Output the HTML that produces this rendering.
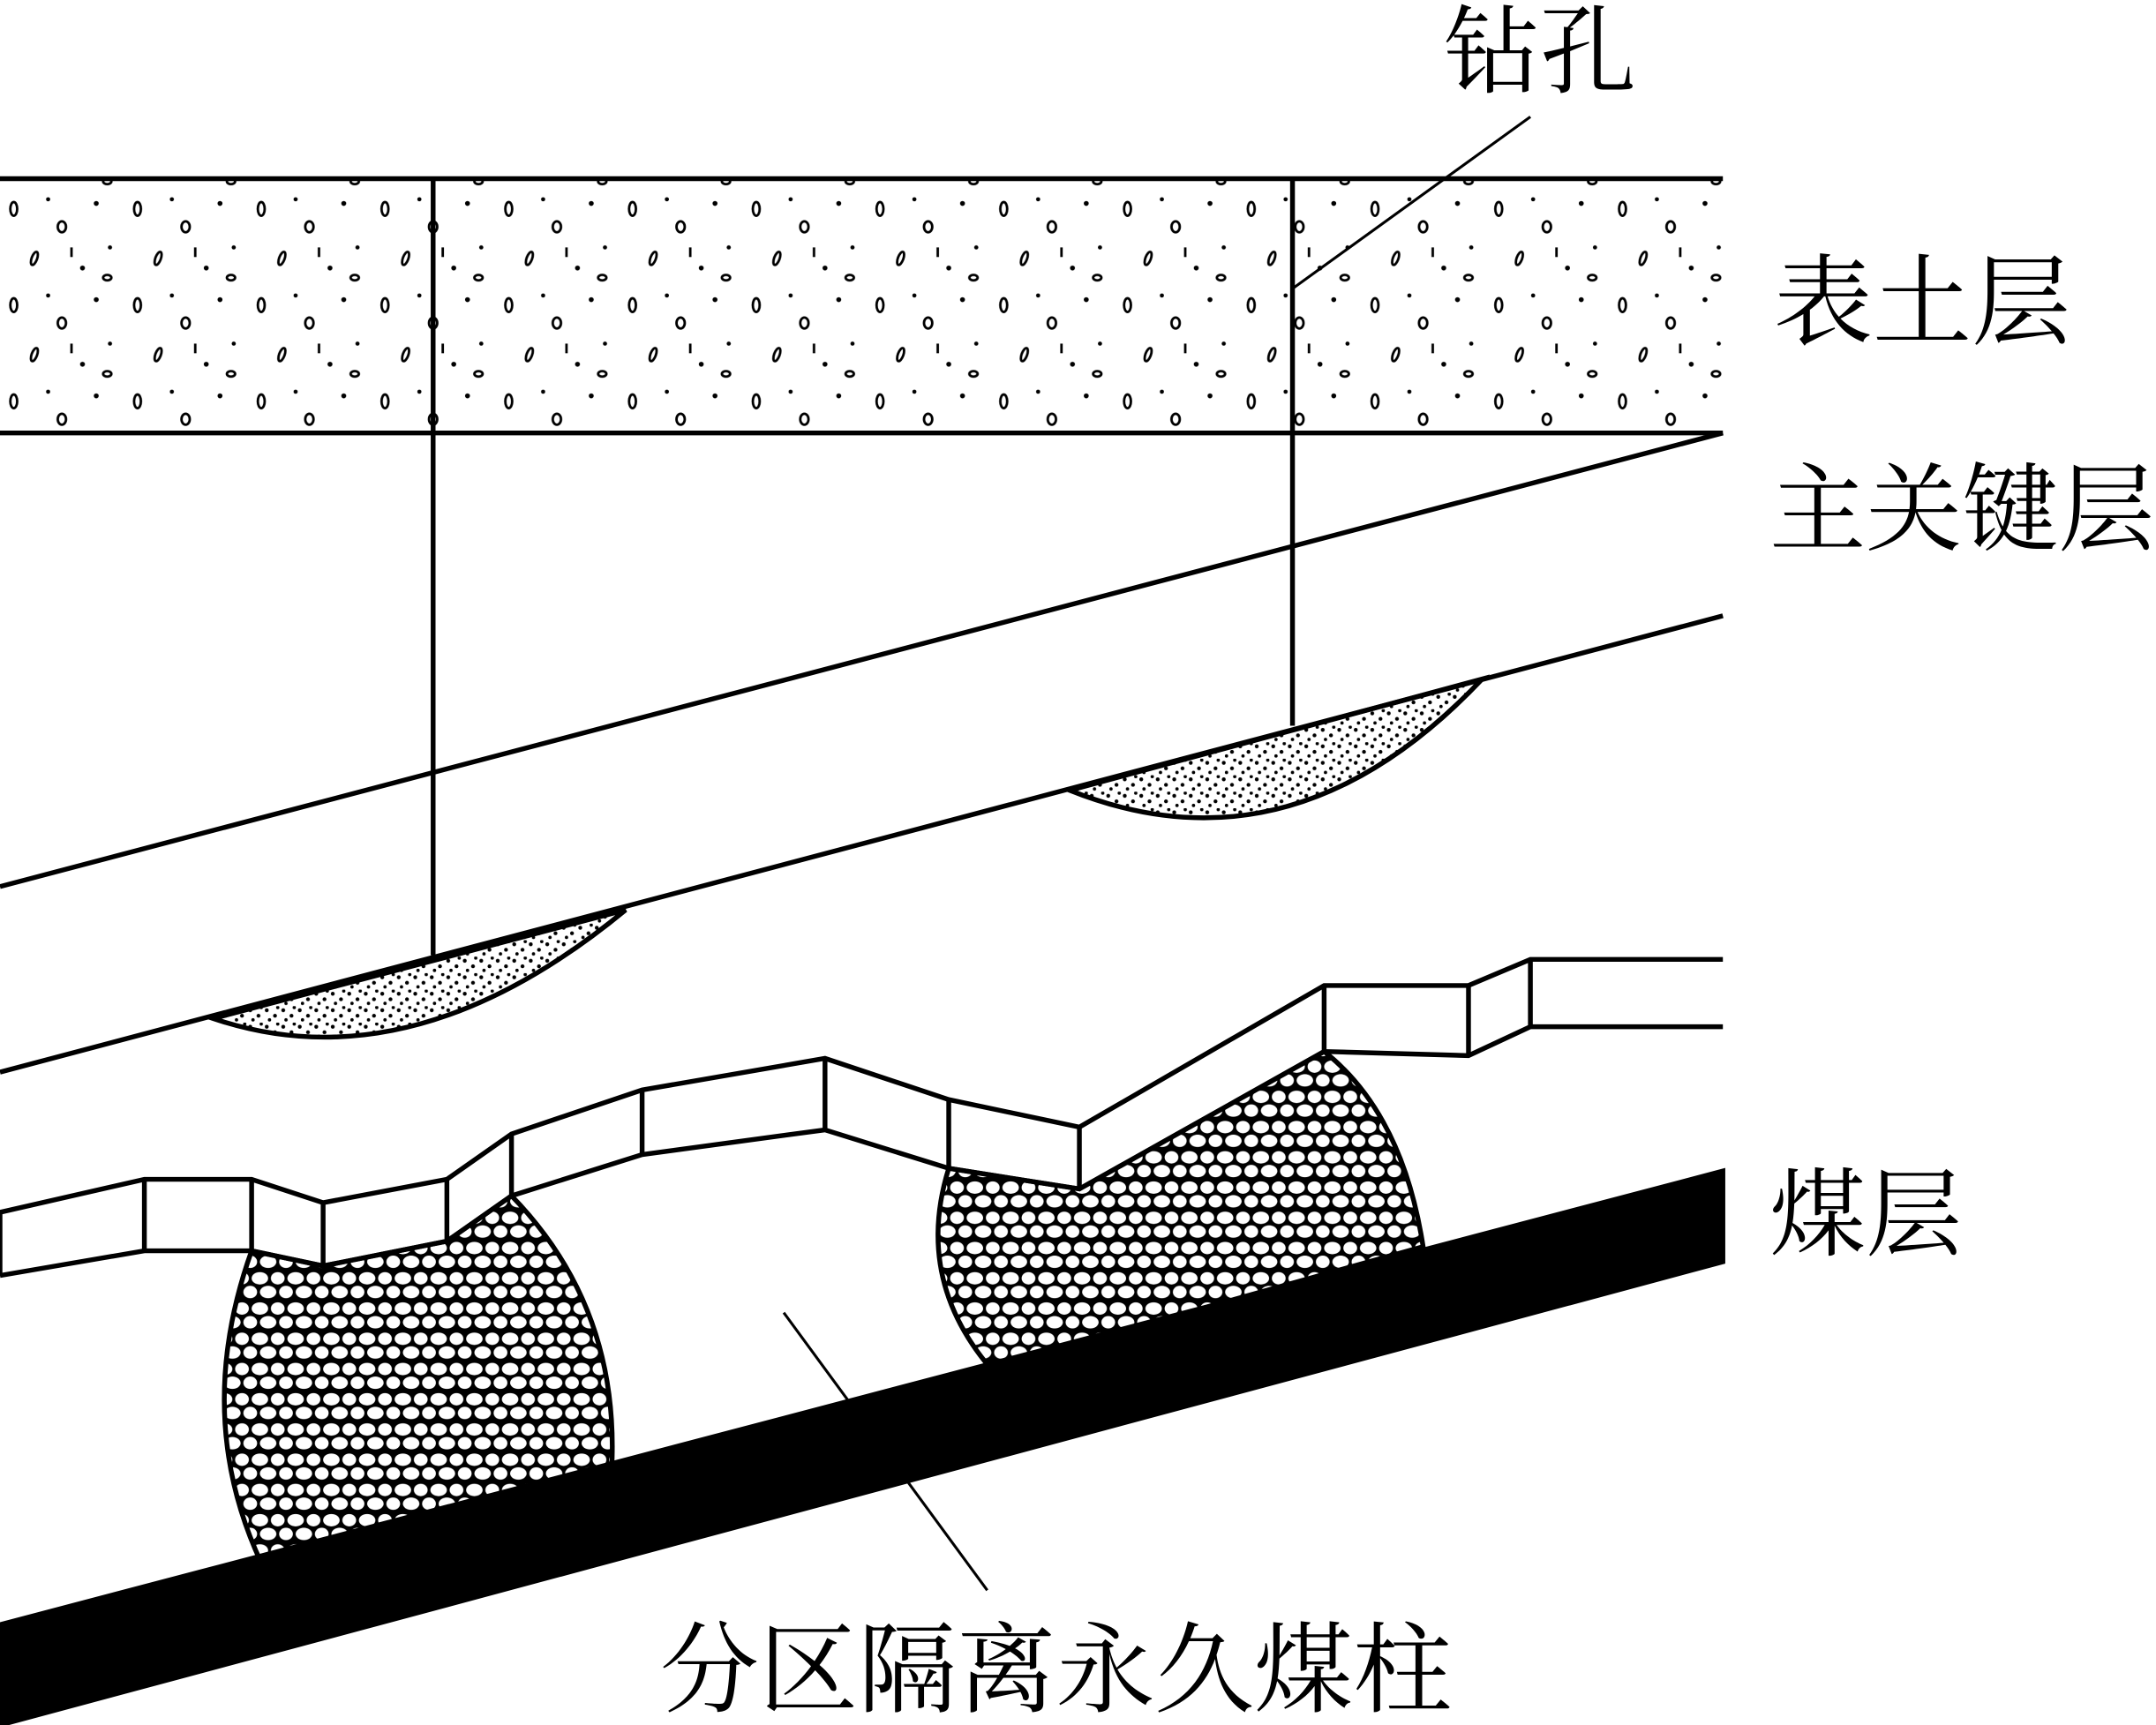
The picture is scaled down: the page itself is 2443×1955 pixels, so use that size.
<!DOCTYPE html>
<html><head><meta charset="utf-8"><style>
html,body{margin:0;padding:0;background:#fff}
svg{display:block}
text{font-family:"Liberation Serif","Noto Serif CJK SC","Noto Sans CJK SC",serif;fill:#000}
</style></head><body>
<svg width="2443" height="1955" viewBox="0 0 1568 1255" preserveAspectRatio="none" xmlns="http://www.w3.org/2000/svg">
<defs>
<pattern id="soil" width="90" height="70" patternUnits="userSpaceOnUse">
<ellipse cx="10" cy="12" rx="2.5" ry="5" fill="none" stroke="#000" stroke-width="1.8"/>
<ellipse cx="45" cy="25" rx="3" ry="4" fill="none" stroke="#000" stroke-width="1.8"/>
<circle cx="70" cy="8" r="1.8"/>
<ellipse cx="25" cy="48" rx="2" ry="5" fill="none" stroke="#000" stroke-width="1.8" transform="rotate(20 25 48)"/>
<circle cx="60" cy="55" r="1.8"/><circle cx="80" cy="40" r="1.5"/>
<ellipse cx="78" cy="62" rx="3" ry="2" fill="none" stroke="#000" stroke-width="1.8"/>
<circle cx="35" cy="5" r="1.5"/><line x1="52" y1="40" x2="52" y2="47" stroke="#000" stroke-width="1.8"/>
</pattern>
<pattern id="sand" width="12" height="12" patternUnits="userSpaceOnUse">
<circle cx="2" cy="3" r="1.4"/><circle cx="8" cy="7" r="1.4"/><circle cx="4" cy="10" r="1.2"/><circle cx="10" cy="1" r="1.2"/>
</pattern>
<pattern id="rock" width="26" height="22" patternUnits="userSpaceOnUse">
<rect width="26" height="22" fill="#000"/>
<ellipse cx="7" cy="6" rx="6" ry="4.5" fill="#fff"/>
<ellipse cx="20" cy="6" rx="5" ry="4.5" fill="#fff"/>
<ellipse cx="13" cy="16" rx="6" ry="4.5" fill="#fff"/>
<ellipse cx="0" cy="16" rx="5" ry="4.5" fill="#fff"/>
<ellipse cx="26" cy="16" rx="5" ry="4.5" fill="#fff"/>
</pattern>
</defs>
<g stroke="#000" stroke-width="3.5" fill="none">
<rect x="0" y="130" width="1253" height="185" fill="url(#soil)" stroke="none"/>
<line x1="0" y1="130" x2="1253" y2="130"/>
<line x1="0" y1="315" x2="1253" y2="315"/>
<line x1="0" y1="645" x2="1253" y2="315"/>
<line x1="0" y1="780" x2="1253" y2="448"/>
<line x1="315" y1="130" x2="315" y2="695"/>
<line x1="940" y1="130" x2="940" y2="528"/>
<line x1="1113" y1="85" x2="940" y2="210" stroke-width="2"/>
<path d="M155,741 Q300,790 455,662 Z" fill="url(#sand)"/>
<path d="M778,575 Q940,640 1078,494 Z" fill="url(#sand)"/>
<path d="M183,910 Q140,1030 190,1137 L445,1066 Q450,950 372,870 L325,903 L235,921 Z" fill="url(#rock)"/>
<path d="M690,850 Q665,930 720,995 L1035,907 Q1020,810 963,765 L785,865 Z" fill="url(#rock)"/>
<path d="M0,1182 L1253,852 L1253,918 L0,1255 Z" fill="#000"/>
<path d="M0,882 L105,858 L183,858 L235,875 L325,858 L372,825 L467,793 L600,770 L690,800 L785,820 L963,717 L1068,717 L1113,698 L1253,698"/>
<path d="M0,928 L105,910 L183,910 L235,921 L325,903 L372,870 L467,840 L600,822 L690,850 L785,865 L963,765 L1068,768 L1113,747 L1253,747"/>
<line x1="0" y1="882" x2="0" y2="928"/>
<line x1="105" y1="858" x2="105" y2="910"/>
<line x1="183" y1="858" x2="183" y2="910"/>
<line x1="235" y1="875" x2="235" y2="921"/>
<line x1="325" y1="858" x2="325" y2="903"/>
<line x1="372" y1="825" x2="372" y2="870"/>
<line x1="467" y1="793" x2="467" y2="840"/>
<line x1="600" y1="770" x2="600" y2="822"/>
<line x1="690" y1="800" x2="690" y2="850"/>
<line x1="785" y1="820" x2="785" y2="865"/>
<line x1="963" y1="717" x2="963" y2="765"/>
<line x1="1068" y1="717" x2="1068" y2="768"/>
<line x1="1113" y1="698" x2="1113" y2="747"/>
<line x1="570" y1="955" x2="718" y2="1157" stroke-width="2"/>
</g>
<text x="1050" y="62" font-size="70">钻孔</text>
<text x="1290" y="245" font-size="72">表土层</text>
<text x="1287" y="395" font-size="70">主关键层</text>
<text x="1287" y="908" font-size="70">煤层</text>
<text x="480" y="1240" font-size="72">分区隔离永久煤柱</text>
</svg>
</body></html>
